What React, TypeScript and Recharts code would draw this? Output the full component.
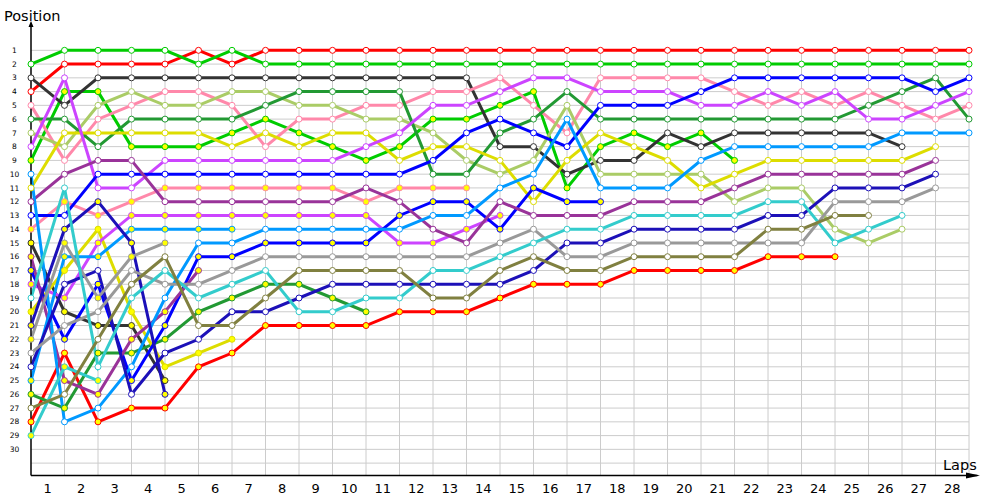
import { LineChart, Line, XAxis, YAxis, ReferenceLine } from 'recharts'

const _ = null

// lap 0 = starting grid, then end of laps 1..28
const laps = [0, 1, 2, 3, 4, 5, 6, 7, 8, 9, 10, 11, 12, 13, 14, 15, 16, 17, 18, 19, 20, 21, 22, 23, 24, 25, 26, 27, 28]
const positionTicks = [1, 2, 3, 4, 5, 6, 7, 8, 9, 10, 11, 12, 13, 14, 15, 16, 17, 18, 19, 20, 21, 22, 23, 24, 25, 26, 27, 28, 29, 30]
const lapLabels = [1, 2, 3, 4, 5, 6, 7, 8, 9, 10, 11, 12, 13, 14, 15, 16, 17, 18, 19, 20, 21, 22, 23, 24, 25, 26, 27, 28]

// position per lap, one array per car (A = open marker, B = filled marker)
const redA = [4, 2, 2, 2, 2, 1, 2, 1, 1, 1, 1, 1, 1, 1, 1, 1, 1, 1, 1, 1, 1, 1, 1, 1, 1, 1, 1, 1, 1]
const redB = [28, 23, 28, 27, 27, 24, 23, 21, 21, 21, 21, 20, 20, 20, 19, 18, 18, 18, 17, 17, 17, 17, 16, 16, 16, _, _, _, _]
const greenA = [2, 1, 1, 1, 1, 2, 1, 2, 2, 2, 2, 2, 2, 2, 2, 2, 2, 2, 2, 2, 2, 2, 2, 2, 2, 2, 2, 2, 2]
const greenB = [9, 4, 4, 8, 8, 8, 7, 6, 7, 8, 9, 8, 6, 6, 5, 4, 11, 8, 7, 8, 7, 9, _, _, _, _, _, _, _]
const darkA = [3, 5, 3, 3, 3, 3, 3, 3, 3, 3, 3, 3, 3, 3, 8, 8, 10, 9, 9, 7, 8, 7, 7, 7, 7, 7, 8, _, _]
const darkB = [15, 20, 21, 21, 25, _, _, _, _, _, _, _, _, _, _, _, _, _, _, _, _, _, _, _, _, _, _, _, _]
const pinkA = [5, 9, 6, 5, 4, 4, 5, 8, 6, 6, 5, 5, 4, 4, 3, 5, 7, 3, 3, 3, 3, 4, 5, 4, 5, 4, 5, 6, 5]
const pinkB = [14, 12, 13, 12, 11, 11, 11, 11, 11, 11, 12, 11, 11, 11, _, _, _, _, _, _, _, _, _, _, _, _, _, _, _]
const limeA = [7, 8, 5, 4, 5, 5, 4, 4, 5, 5, 6, 6, 7, 9, 10, 9, 5, 10, 10, 10, 10, 12, 11, 11, 14, 15, 14, _, _]
const forestA = [6, 6, 8, 6, 6, 6, 6, 5, 4, 4, 4, 4, 10, 10, 7, 6, 4, 6, 6, 6, 6, 6, 6, 6, 6, 5, 4, 3, 6]
const forestB = [26, 27, 23, 23, 22, 20, 19, 18, 18, 19, 20, _, _, _, _, _, _, _, _, _, _, _, _, _, _, _, _, _, _]
const yellowA = [11, 7, 7, 7, 7, 7, 8, 7, 8, 7, 7, 9, 8, 8, 9, 12, 9, 7, 8, 9, 11, 10, 9, 9, 9, 9, 9, 8, _]
const yellowB = [20, 17, 14, 20, 24, 23, 22, _, _, _, _, _, _, _, _, _, _, _, _, _, _, _, _, _, _, _, _, _, _]
const violetA = [8, 3, 11, 11, 9, 9, 9, 9, 9, 9, 8, 7, 5, 5, 4, 3, 3, 4, 4, 4, 5, 5, 4, 5, 4, 6, 6, 5, 4]
const violetB = [18, 19, 15, 13, 13, 13, 13, 13, 13, 13, 13, 15, 15, 14, 13, _, _, _, _, _, _, _, _, _, _, _, _, _, _]
const blueA = [13, 13, 10, 10, 10, 10, 10, 10, 10, 10, 10, 10, 9, 7, 6, 7, 8, 5, 5, 5, 4, 3, 3, 3, 3, 3, 3, 4, 3]
const blueB = [17, 22, 18, 25, 21, 16, 16, 15, 15, 15, 15, 13, 12, 12, 14, 11, 12, 12, _, _, _, _, _, _, _, _, _, _, _]
const plumA = [12, 10, 9, 9, 12, 12, 12, 12, 12, 12, 11, 12, 14, 15, 12, 13, 13, 13, 12, 12, 12, 11, 10, 10, 10, 10, 10, 9, _]
const plumB = [16, 25, 26, 22, 20, 17, _, _, _, _, _, _, _, _, _, _, _, _, _, _, _, _, _, _, _, _, _, _, _]
const skyA = [10, 28, 27, 24, 19, 15, 15, 14, 14, 14, 14, 14, 13, 13, 11, 10, 6, 11, 11, 11, 9, 8, 8, 8, 8, 8, 7, 7, 7]
const skyB = [25, 16, 16, 14, 14, 14, 14, _, _, _, _, _, _, _, _, _, _, _, _, _, _, _, _, _, _, _, _, _, _]
const navyA = [24, 18, 17, 26, 23, 22, 20, 20, 19, 18, 18, 18, 18, 18, 18, 17, 15, 15, 14, 14, 14, 14, 13, 13, 11, 11, 11, 10, _]
const navyB = [21, 14, 12, 15, 26, _, _, _, _, _, _, _, _, _, _, _, _, _, _, _, _, _, _, _, _, _, _, _, _]
const greyA = [23, 21, 20, 17, 18, 18, 17, 16, 16, 16, 16, 16, 16, 16, 15, 14, 16, 16, 15, 15, 15, 15, 15, 15, 12, 12, 12, 11, _]
const greyB = [22, 15, 19, 16, 15, _, _, _, _, _, _, _, _, _, _, _, _, _, _, _, _, _, _, _, _, _, _, _, _]
const cyanA = [19, 11, 24, 19, 17, 19, 18, 17, 20, 20, 19, 19, 17, 17, 16, 15, 14, 14, 13, 13, 13, 13, 12, 12, 15, 14, 13, _, _]
const cyanB = [29, 24, 25, _, _, _, _, _, _, _, _, _, _, _, _, _, _, _, _, _, _, _, _, _, _, _, _, _, _]
const oliveA = [27, 26, 22, 18, 16, 21, 21, 19, 17, 17, 17, 17, 19, 19, 17, 16, 17, 17, 16, 16, 16, 16, 14, 14, 13, 13, _, _, _]

const cars: [string, (number | null)[], string, boolean][] = [
  ['redA', redA, '#ff0000', false],
  ['redB', redB, '#ff0000', true],
  ['greenA', greenA, '#00cc00', false],
  ['greenB', greenB, '#00cc00', true],
  ['darkA', darkA, '#333333', false],
  ['darkB', darkB, '#333333', true],
  ['pinkA', pinkA, '#ff88aa', false],
  ['pinkB', pinkB, '#ff88aa', true],
  ['limeA', limeA, '#aacc66', false],
  ['forestA', forestA, '#229933', false],
  ['forestB', forestB, '#229933', true],
  ['yellowA', yellowA, '#dddd00', false],
  ['yellowB', yellowB, '#dddd00', true],
  ['violetA', violetA, '#cc44ff', false],
  ['violetB', violetB, '#cc44ff', true],
  ['blueA', blueA, '#0000ff', false],
  ['blueB', blueB, '#0000ff', true],
  ['plumA', plumA, '#993399', false],
  ['plumB', plumB, '#993399', true],
  ['skyA', skyA, '#0099ff', false],
  ['skyB', skyB, '#0099ff', true],
  ['navyA', navyA, '#1c10b8', false],
  ['navyB', navyB, '#1c10b8', true],
  ['greyA', greyA, '#999999', false],
  ['greyB', greyB, '#999999', true],
  ['cyanA', cyanA, '#33cccc', false],
  ['cyanB', cyanB, '#33cccc', true],
  ['oliveA', oliveA, '#808040', false],
]

const rows = laps.map((lap, i) => {
  const row: Record<string, number | null> = { lap }
  cars.forEach(([key, values]) => { row[key] = values[i] })
  return row
})

const font = 'DejaVu Sans, Verdana, sans-serif'

const makeDot = (color: string, filled: boolean) => (props: any) => {
  const { cx, cy, index, value } = props
  if (value == null || cy == null || Number.isNaN(cy)) return <g key={index} />
  return <circle key={index} cx={cx} cy={cy} r={3} fill={filled ? '#ffff00' : '#ffffff'} stroke={color} strokeWidth={1} />
}

const LeftTick = ({ y, payload }: any) => (
  <text x={14.5} y={y} dy="0.35em" textAnchor="middle" fontSize={7.5} fontFamily={font} fill="#000">{payload.value}</text>
)

const RightTick = ({ y, payload }: any) => (
  <text x={977} y={y} dy="0.35em" textAnchor="start" fontSize={9.5} fontFamily={font} fill="#000">{payload.value}</text>
)

const LapTick = ({ x, payload }: any) => (
  <text x={x} y={493} textAnchor="middle" fontSize={13} fontFamily={font} fill="#000">{Math.round(payload.value + 0.5)}</text>
)

export default function App() {
  return (
    <div style={{ position: 'relative', width: 1000, height: 500, background: '#fff' }}>
      <style>{'body{margin:0}'}</style>
      <LineChart width={1000} height={500} data={rows} margin={{ top: 22.8, right: 0, bottom: 0, left: 0 }}>
        <XAxis
          dataKey="lap"
          type="number"
          domain={[0, 28.25]}
          ticks={lapLabels.map((l) => l - 0.5)}
          interval={0}
          tick={<LapTick />}
          tickLine={false}
          axisLine={{ stroke: '#000', strokeWidth: 1.5 }}
          height={24.5}
        />
        <YAxis
          yAxisId="l"
          type="number"
          reversed
          domain={[-1, 31.9]}
          ticks={positionTicks}
          interval={0}
          tick={<LeftTick />}
          tickLine={false}
          axisLine={{ stroke: '#000', strokeWidth: 1.5 }}
          width={31}
        />
        <YAxis
          yAxisId="r"
          orientation="right"
          type="number"
          reversed
          domain={[-1, 31.9]}
          ticks={positionTicks}
          interval={0}
          tick={<RightTick />}
          tickLine={false}
          axisLine={false}
          width={22.6}
        />
        {lapLabels.map((l) => (
          <ReferenceLine key={`v${l}`} yAxisId="l" segment={[{ x: l, y: 1 }, { x: l, y: 31.9 }]} stroke="#cccccc" strokeWidth={1} />
        ))}
        {[...positionTicks, 31].map((p) => (
          <ReferenceLine key={`h${p}`} yAxisId="l" segment={[{ x: 0, y: p }, { x: 28, y: p }]} stroke="#cccccc" strokeWidth={1} />
        ))}
        {cars.map(([key, , color, filled]) => (
          <Line
            key={key}
            yAxisId="l"
            dataKey={key}
            stroke={color}
            strokeWidth={3}
            dot={makeDot(color, filled)}
            activeDot={false}
            isAnimationActive={false}
            connectNulls={false}
          />
        ))}
      </LineChart>
      <svg width={1000} height={500} style={{ position: 'absolute', left: 0, top: 0, pointerEvents: 'none' }}>
        <text x={4} y={21} fontSize={14.5} fontFamily={font} fill="#000">Position</text>
        <text x={943} y={470} fontSize={14.5} fontFamily={font} fill="#000">Laps</text>
        <polygon points="31,21 28.5,27 33.5,27" fill="#000" />
        <polygon points="980,475.5 966,472.5 966,478.5" fill="#000" />
      </svg>
    </div>
  )
}
